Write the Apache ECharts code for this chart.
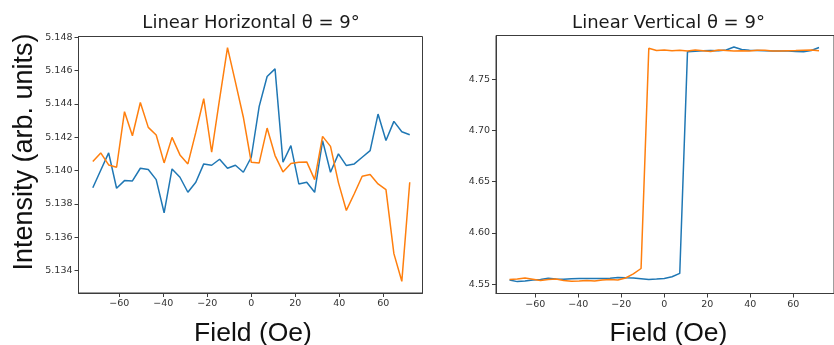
<!DOCTYPE html>
<html>
<head>
<meta charset="utf-8">
<script src="https://cdn.jsdelivr.net/npm/echarts@6/dist/echarts.min.js"></script>
<style>
html,body{margin:0;padding:0;background:#fff;}
#chart{width:834px;height:345px;}
</style>
</head>
<body>
<div id="chart"></div>
<script>
// Field values (Oe)
const fieldValues = [-72, -68.4, -64.8, -61.2, -57.6, -54, -50.4, -46.8, -43.2, -39.6, -36, -32.4, -28.8, -25.2, -21.6, -18, -14.4, -10.8, -7.2, -3.6, 0, 3.6, 7.2, 10.8, 14.4, 18, 21.6, 25.2, 28.8, 32.4, 36, 39.6, 43.2, 46.8, 50.4, 54, 57.6, 61.2, 64.8, 68.4, 72];

// Linear Horizontal
const horizBlue = [5.13897, 5.14002, 5.14106, 5.13894, 5.13940, 5.13938, 5.14014, 5.14006, 5.13946, 5.13747, 5.14010, 5.13960, 5.13870, 5.13930, 5.14040, 5.14032, 5.14068, 5.14014, 5.14032, 5.13990, 5.14080, 5.14385, 5.14564, 5.14610, 5.14050, 5.14150, 5.13920, 5.13930, 5.13870, 5.14180, 5.13990, 5.14100, 5.14030, 5.14040, 5.14080, 5.14120, 5.14339, 5.14180, 5.14295, 5.14233, 5.14215];
const horizOrange = [5.14054, 5.14106, 5.14034, 5.14020, 5.14353, 5.14209, 5.14408, 5.14259, 5.14213, 5.14046, 5.14199, 5.14094, 5.14040, 5.14229, 5.14431, 5.14110, 5.14429, 5.14737, 5.14530, 5.14320, 5.14050, 5.14046, 5.14255, 5.14090, 5.13992, 5.14042, 5.14050, 5.14052, 5.13946, 5.14205, 5.14145, 5.13928, 5.13761, 5.13861, 5.13966, 5.13976, 5.13920, 5.13886, 5.13502, 5.13336, 5.13930];

// Linear Vertical
const vertBlue = [4.5540, 4.5525, 4.5530, 4.5540, 4.5545, 4.5558, 4.5550, 4.5548, 4.5552, 4.5555, 4.5555, 4.5556, 4.5555, 4.5558, 4.5565, 4.5562, 4.5560, 4.5553, 4.5546, 4.5550, 4.5556, 4.5572, 4.5605, 4.7768, 4.7773, 4.7778, 4.7780, 4.7778, 4.7785, 4.7815, 4.7790, 4.7782, 4.7780, 4.7778, 4.7776, 4.7776, 4.7775, 4.7770, 4.7768, 4.7780, 4.7810];
const vertOrange = [4.5545, 4.5550, 4.5560, 4.5548, 4.5535, 4.5545, 4.5550, 4.5535, 4.5528, 4.5530, 4.5535, 4.5530, 4.5540, 4.5545, 4.5540, 4.5560, 4.5600, 4.5653, 4.7803, 4.7780, 4.7785, 4.7778, 4.7782, 4.7776, 4.7785, 4.7778, 4.7770, 4.7786, 4.7780, 4.7775, 4.7778, 4.7776, 4.7782, 4.7784, 4.7776, 4.7775, 4.7779, 4.7780, 4.7783, 4.7786, 4.7778];

// Tick labels
const xTicks = [-60, -40, -20, 0, 20, 40, 60];
const horizYTicks = [5.134, 5.136, 5.138, 5.140, 5.142, 5.144, 5.146, 5.148];
const vertYTicks = [4.55, 4.60, 4.65, 4.70, 4.75];

const titles = ['Linear Horizontal θ = 9°', 'Linear Vertical θ = 9°'];
const xTitle = 'Field (Oe)';
const yTitle = 'Intensity (arb. units)';

const BLUE = '#1f77b4', ORANGE = '#ff7f0e', FRAME = '#3c3c3c', TXT = '#333';

function pairs(xs, ys){ return xs.map((x,i)=>[x, ys[i]]); }
function fmtX(v){ return v < 0 ? '\u2212' + Math.abs(v) : String(v); }

const chart = echarts.init(document.getElementById('chart'), null, {renderer:'canvas'});

function xAxis(gi, min, max){
  return {
    type:'value', gridIndex:gi, min:min, max:max,
    axisLine:{show:true, onZero:false, lineStyle:{color:FRAME, width:1}},
    axisTick:{show:true, length:4, lineStyle:{color:FRAME}, customValues:xTicks},
    axisLabel:{show:true, customValues:xTicks, formatter:fmtX, color:TXT, fontFamily:'DejaVu Sans', fontSize:9.5, margin:6},
    splitLine:{show:false}
  };
}
function yAxis(gi, min, max, ticks, dec){
  return {
    type:'value', gridIndex:gi, min:min, max:max, scale:true,
    axisLine:{show:true, onZero:false, lineStyle:{color:FRAME, width:1}},
    axisTick:{show:true, length:4, lineStyle:{color:FRAME}, customValues:ticks},
    axisLabel:{show:true, customValues:ticks, formatter:(v)=>Number(v).toFixed(dec), color:TXT, fontFamily:'DejaVu Sans', fontSize:9.5, margin:6},
    splitLine:{show:false}
  };
}
function line(xi, yi, data, color){
  return {type:'line', xAxisIndex:xi, yAxisIndex:yi, data:data, showSymbol:false, symbol:'none',
    lineStyle:{color:color, width:1.5}, itemStyle:{color:color}, animation:false, z:3};
}

const option = {
  backgroundColor:'#fff',
  animation:false,
  grid:[
    {left:78.5, top:36.5, width:344, height:256.5, show:true, borderColor:FRAME, borderWidth:1, backgroundColor:'transparent'},
    {left:496, top:35.5, width:346, height:258, show:true, borderColor:FRAME, borderWidth:1, backgroundColor:'transparent'}
  ],
  xAxis:[ xAxis(0, -78.5, 77.8), xAxis(1, -78.3, 78.97) ],
  yAxis:[ yAxis(0, 5.13266, 5.14804, horizYTicks, 3), yAxis(1, 4.5409, 4.7927, vertYTicks, 2) ],
  series:[
    line(0,0,pairs(fieldValues,horizBlue),BLUE),
    line(0,0,pairs(fieldValues,horizOrange),ORANGE),
    line(1,1,pairs(fieldValues,vertBlue),BLUE),
    line(1,1,pairs(fieldValues,vertOrange),ORANGE)
  ],
  graphic:[
    {type:'text', x:251, y:23, style:{text:titles[0], font:'18px "DejaVu Sans"', fill:'#1a1a1a', textAlign:'center', textVerticalAlign:'middle'}},
    {type:'text', x:668.5, y:23, style:{text:titles[1], font:'18px "DejaVu Sans"', fill:'#1a1a1a', textAlign:'center', textVerticalAlign:'middle'}},
    {type:'text', x:253, y:334, style:{text:xTitle, font:'26.5px "Liberation Sans"', fill:'#111', textAlign:'center', textVerticalAlign:'middle'}},
    {type:'text', x:668.5, y:334, style:{text:xTitle, font:'26.5px "Liberation Sans"', fill:'#111', textAlign:'center', textVerticalAlign:'middle'}},
    {type:'text', x:25, y:152, rotation:Math.PI/2, style:{text:yTitle, font:'27px "Liberation Sans"', fill:'#111', textAlign:'center', textVerticalAlign:'middle'}}
  ]
};
chart.setOption(option);
</script>
</body>
</html>
